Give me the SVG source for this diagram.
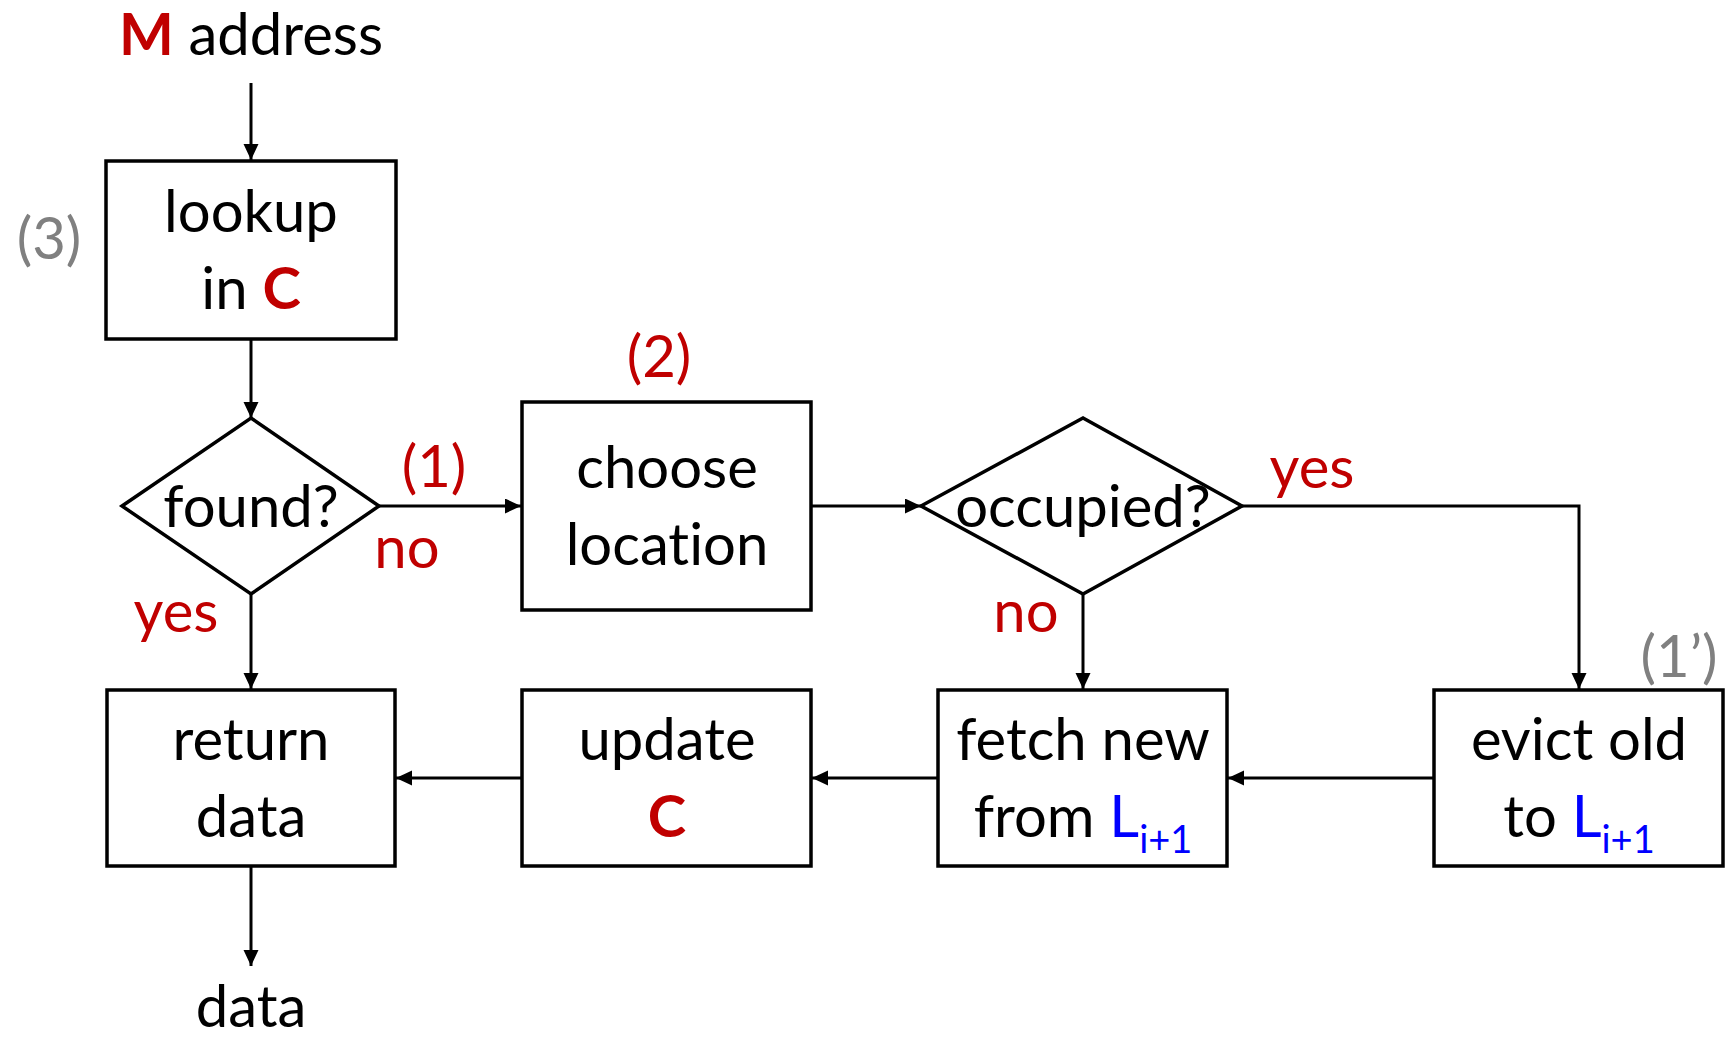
<svg xmlns="http://www.w3.org/2000/svg" width="1728" height="1039" viewBox="0 0 1728 1039">
<style>
text{font-family:Lato,"Liberation Sans",sans-serif;font-size:58px;fill:#000;text-anchor:middle;font-variant-ligatures:none;font-feature-settings:"liga" 0}
.red{fill:#C00000}
.gray{fill:#808080}
.blue{fill:#0000FF}
.b{font-weight:bold}
.box{fill:#fff;stroke:#000;stroke-width:3.5}
.con{fill:none;stroke:#000;stroke-width:3}
</style>
<defs>
<marker id="ah" markerUnits="userSpaceOnUse" markerWidth="18" markerHeight="18" refX="16" refY="7.5" orient="auto">
<path d="M0,0 L16,7.5 L0,15 Z" fill="#000"/>
</marker>
</defs>
<rect width="1728" height="1039" fill="#fff"/>
<g id="connectors">
<line class="con" x1="251" y1="83" x2="251" y2="160" marker-end="url(#ah)"/>
<line class="con" x1="251" y1="339" x2="251" y2="418" marker-end="url(#ah)"/>
<line class="con" x1="379" y1="506" x2="521" y2="506" marker-end="url(#ah)"/>
<line class="con" x1="251" y1="594" x2="251" y2="689" marker-end="url(#ah)"/>
<line class="con" x1="811" y1="506" x2="921" y2="506" marker-end="url(#ah)"/>
<polyline class="con" points="1242,506 1579,506 1579,689" marker-end="url(#ah)"/>
<line class="con" x1="1083" y1="594" x2="1083" y2="689" marker-end="url(#ah)"/>
<line class="con" x1="1434" y1="778" x2="1228" y2="778" marker-end="url(#ah)"/>
<line class="con" x1="938" y1="778" x2="812" y2="778" marker-end="url(#ah)"/>
<line class="con" x1="522" y1="778" x2="396" y2="778" marker-end="url(#ah)"/>
<line class="con" x1="251" y1="866" x2="251" y2="966" marker-end="url(#ah)"/>
</g>
<g id="labels">
<text x="251" y="55"><tspan class="red b">M</tspan> address</text>
<text class="gray" x="49" y="259">(3)</text>
<text class="red" x="434" y="487">(1)</text>
<text class="red" x="407" y="568">no</text>
<text class="red" x="176" y="632">yes</text>
<text class="red" x="659" y="377">(2)</text>
<text class="red" x="1026" y="632">no</text>
<text class="red" x="1312" y="488">yes</text>
<text class="gray" x="1679" y="677">(1’)</text>
<text x="251" y="1027">data</text>
</g>
<g id="lookup">
<rect class="box" x="106" y="161" width="290" height="178"/>
<text x="251" y="232">lookup</text>
<text x="251" y="309">in <tspan class="red b">C</tspan></text>
</g>
<g id="found">
<polygon class="box" points="122,506 251,418 379,506 251,594"/>
<text x="251" y="527">found?</text>
</g>
<g id="choose">
<rect class="box" x="522" y="402" width="289" height="208"/>
<text x="667" y="488">choose</text>
<text x="667" y="565">location</text>
</g>
<g id="occupied">
<polygon class="box" points="921,506 1083,418 1242,506 1083,594"/>
<text x="1083" y="527">occupied?</text>
</g>
<g id="return">
<rect class="box" x="107" y="690" width="288" height="176"/>
<text x="251" y="760">return</text>
<text x="251" y="837">data</text>
</g>
<g id="update">
<rect class="box" x="522" y="690" width="289" height="176"/>
<text x="667" y="760">update</text>
<text x="667" y="837" class="red b">C</text>
</g>
<g id="fetch">
<rect class="box" x="938" y="690" width="289" height="176"/>
<text x="1083" y="760">fetch new</text>
<text x="1083" y="837">from <tspan class="blue">L</tspan><tspan class="blue" font-size="38" dy="16">i+1</tspan></text>
</g>
<g id="evict">
<rect class="box" x="1434" y="690" width="289" height="176"/>
<text x="1579" y="760">evict old</text>
<text x="1579" y="837">to <tspan class="blue">L</tspan><tspan class="blue" font-size="38" dy="16">i+1</tspan></text>
</g>
</svg>
